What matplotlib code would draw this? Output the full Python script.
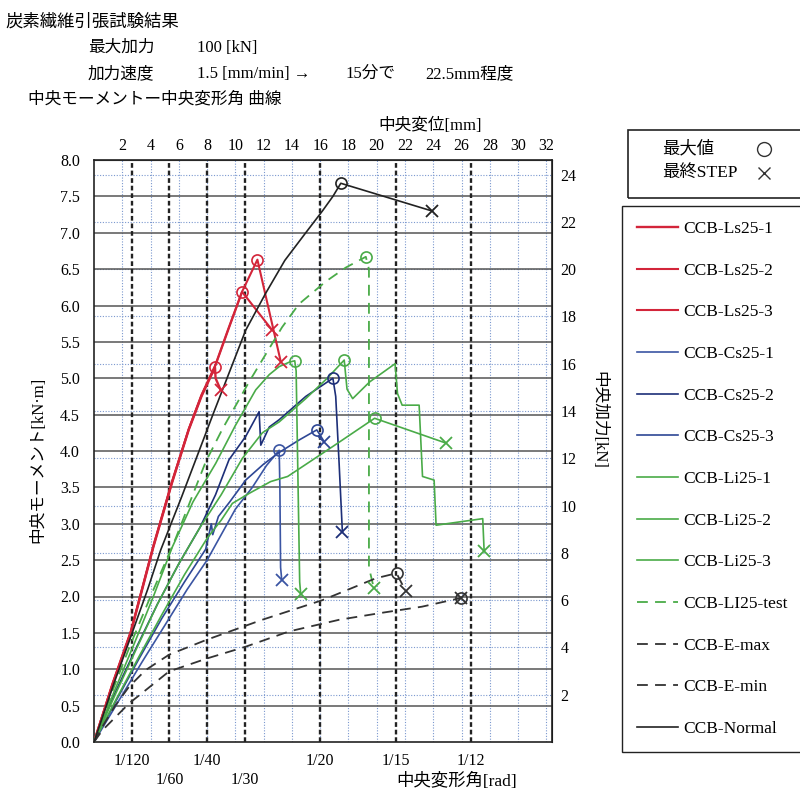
import numpy as np
import matplotlib.pyplot as plt
from matplotlib.lines import Line2D
from matplotlib.patches import Rectangle

plt.rcParams['font.family'] = ['Liberation Serif', 'Noto Sans CJK JP']

# kN per kN*m (right axis) and mm per rad (top axis)
K = 1 / 0.325
MM_PER_RAD = 320

# rad ticks on the bottom axis
rad_denoms = [120, 60, 40, 30, 20, 15, 12]
rad_labels = ['1/120', '\n1/60', '1/40', '\n1/30', '1/20', '1/15', '1/12']
mm_ticks = list(range(2, 33, 2))
kn_ticks = list(range(2, 25, 2))
moment_ticks = np.arange(0, 8.01, 0.5)

# ---- curves: x = central displacement [mm], y = moment [kN*m]
ls1_x = [0, 1.3, 2.6, 4.2, 5.5, 6.7, 7.6, 8.56, 8.6, 8.96]
ls1_y = [0, 0.78, 1.5, 2.68, 3.55, 4.29, 4.75, 5.15, 5.0, 4.84]
ls2_x = [0, 1.3, 2.6, 4.2, 5.5, 6.7, 7.6, 8.56, 9.5, 10.47, 12.57]
ls2_y = [0, 0.8, 1.52, 2.7, 3.57, 4.3, 4.77, 5.17, 5.68, 6.19, 5.67]
ls3_x = [0, 1.3, 2.6, 4.2, 5.5, 6.7, 7.6, 8.6, 9.6, 10.5, 11.56, 13.21]
ls3_y = [0, 0.79, 1.51, 2.69, 3.56, 4.3, 4.76, 5.18, 5.72, 6.2, 6.63, 5.23]

cs1_x = [0, 1.7, 3.4, 5.0, 6.6, 8.0, 9.0, 10.0, 11.2, 12.2, 13.1, 13.15, 13.2, 13.28]
cs1_y = [0, 0.55, 1.1, 1.6, 2.1, 2.5, 2.85, 3.2, 3.5, 3.8, 4.01, 3.5, 2.4, 2.23]
cs2_x = [0, 1.5, 3.0, 4.5, 6.0, 7.5, 8.6, 9.55, 10.73, 11.68, 11.8, 12.4, 13.1, 14.98, 16.9, 17.1, 17.34, 17.57]
cs2_y = [0, 0.68, 1.3, 1.9, 2.45, 2.95, 3.4, 3.88, 4.2, 4.54, 4.08, 4.33, 4.43, 4.75, 5.0, 4.75, 3.83, 2.89]
cs3_x = [0, 1.6, 3.2, 4.8, 6.4, 7.9, 8.3, 8.4, 8.8, 9.6, 10.73, 12.0, 13.1, 14.5, 15.76, 16.28]
cs3_y = [0, 0.58, 1.15, 1.7, 2.2, 2.65, 3.0, 2.85, 3.1, 3.3, 3.6, 3.82, 3.98, 4.15, 4.29, 4.13]

li1_x = [0, 1.4, 2.8, 4.2, 5.54, 7.0, 8.61, 10.0, 11.44, 12.4, 13.1, 13.8, 14.2, 14.3, 14.55, 14.62]
li1_y = [0, 0.68, 1.33, 2.0, 2.68, 3.3, 3.83, 4.35, 4.84, 5.05, 5.16, 5.22, 5.24, 5.1, 2.2, 2.04]
li2_x = [0, 1.5, 3.0, 4.5, 6.0, 7.5, 9.0, 10.5, 11.91, 13.1, 14.98, 16.5, 17.7, 17.9, 18.3, 19.5, 21.3,
         21.47, 21.8, 23.0, 23.24, 24.06, 24.2, 27.5, 27.6]
li2_y = [0, 0.65, 1.28, 1.9, 2.45, 2.95, 3.4, 3.9, 4.25, 4.4, 4.72, 5.0, 5.25, 4.85, 4.72, 4.95, 5.2,
         4.79, 4.63, 4.63, 3.65, 3.6, 2.98, 3.07, 2.62]
li3_x = [0, 1.6, 3.2, 4.8, 6.4, 8.0, 9.0, 9.79, 11.0, 12.5, 13.7, 16.8, 19.85, 24.88]
li3_y = [0, 0.6, 1.18, 1.75, 2.3, 2.8, 3.05, 3.28, 3.42, 3.58, 3.65, 4.05, 4.45, 4.11]
lit_x = [0, 1.3, 2.5, 4.0, 5.78, 7.9, 9.08, 10.97, 11.9, 13.3, 14.5, 16.4, 17.8, 19.23, 19.45, 19.45, 19.8]
lit_y = [0, 0.7, 1.3, 2.0, 2.8, 3.85, 4.3, 4.95, 5.25, 5.7, 6.02, 6.33, 6.52, 6.67, 6.5, 2.4, 2.11]

emax_x = [0, 0.59, 1.5, 2.48, 3.66, 5.31, 7.9, 11.9, 16.16, 19.93, 21.4, 22.06]
emax_y = [0, 0.21, 0.5, 0.76, 0.99, 1.2, 1.4, 1.68, 1.95, 2.25, 2.32, 2.07]
emin_x = [0, 0.59, 2.48, 5.31, 8.02, 10.73, 13.8, 17.34, 20.5, 23.2, 25.97]
emin_y = [0, 0.16, 0.53, 0.97, 1.15, 1.31, 1.52, 1.68, 1.78, 1.86, 1.98]
nor_x = [0, 1.4, 2.7, 3.8, 4.72, 6.2, 8.45, 10.73, 12.15, 13.5, 14.98, 16.16, 16.9, 17.46, 23.9]
nor_y = [0, 0.8, 1.5, 2.1, 2.64, 3.37, 4.52, 5.66, 6.17, 6.62, 7.0, 7.3, 7.5, 7.68, 7.30]

RED = '#d3253a'
GREEN = '#4aab48'
series = [
    ('CCB-Ls25-1', ls1_x, ls1_y, RED, '-', 1.7),
    ('CCB-Ls25-2', ls2_x, ls2_y, RED, '-', 1.5),
    ('CCB-Ls25-3', ls3_x, ls3_y, RED, '-', 1.5),
    ('CCB-Cs25-1', cs1_x, cs1_y, '#3b55a3', '-', 1.2),
    ('CCB-Cs25-2', cs2_x, cs2_y, '#1d2f78', '-', 1.2),
    ('CCB-Cs25-3', cs3_x, cs3_y, '#2e4795', '-', 1.2),
    ('CCB-Li25-1', li1_x, li1_y, GREEN, '-', 1.2),
    ('CCB-Li25-2', li2_x, li2_y, GREEN, '-', 1.2),
    ('CCB-Li25-3', li3_x, li3_y, GREEN, '-', 1.2),
    ('CCB-LI25-test', lit_x, lit_y, GREEN, (0, (6, 4)), 1.3),
    ('CCB-E-max', emax_x, emax_y, '#333333', (0, (6, 4)), 1.3),
    ('CCB-E-min', emin_x, emin_y, '#333333', (0, (6, 4)), 1.3),
    ('CCB-Normal', nor_x, nor_y, '#222222', '-', 1.2),
]

W, H = 800, 793


def fx(px):
    return px / W


def fy(py):
    return 1 - py / H


fig = plt.figure(figsize=(W / 100, H / 100), dpi=100)
ax = fig.add_axes([fx(94), fy(742), fx(552) - fx(94), fy(160) - fy(742)])
ax.set_xlim(0, 32.4)
ax.set_ylim(0, 8)

# grid
for m in mm_ticks:
    ax.axvline(m, color='#7b98cf', lw=0.8, ls=(0, (1, 1.5)), zorder=1)
for p in kn_ticks:
    ax.axhline(p / K, color='#7b98cf', lw=0.8, ls=(0, (1, 1.5)), zorder=1)
for v in moment_ticks[1:]:
    ax.axhline(v, color='#555555', lw=1.1, zorder=1)
for d in rad_denoms:
    ax.axvline(MM_PER_RAD / d, color='#222222', lw=1.7, ls=(0, (2, 1.2)), zorder=1.5)

handles = []
for label, x, y, c, ls, lw in series:
    x = np.array(x)
    y = np.array(y)
    h, = ax.plot(x, y, color=c, ls=ls, lw=lw, label=label, zorder=3)
    handles.append(h)
    i = np.argmax(y)
    ax.plot(x[i], y[i], marker='o', ms=8, mfc='none', mec=c, mew=1.2, ls='none', zorder=4)
    ax.plot(x[-1], y[-1], marker='x', ms=9, mec=c, mew=1.3, ls='none', zorder=4)

# axes / ticks
ax.set_yticks(moment_ticks)
ax.set_yticklabels([f'{v:.1f}' for v in moment_ticks])
ax.set_xticks([MM_PER_RAD / d for d in rad_denoms])
ax.set_xticklabels(rad_labels, va='top', linespacing=1.25)
ax.tick_params(axis='both', length=0, labelsize=11.5)
ax.tick_params(axis='y', pad=10)
ax.tick_params(axis='x', pad=8)
for s in ax.spines.values():
    s.set_linewidth(1.2)
    s.set_color('#222222')

top = ax.secondary_xaxis('top')
top.set_xticks(mm_ticks)
top.tick_params(length=0, labelsize=11.5, pad=4)

right = ax.secondary_yaxis('right', functions=(lambda m: m * K, lambda p: p / K))
right.set_yticks(kn_ticks)
right.tick_params(length=0, labelsize=11.5, pad=6)

# texts
fig.text(fx(5), fy(22), '炭素繊維引張試験結果', fontsize=12.5, va='center')
fig.text(fx(88), fy(48), '最大加力', fontsize=12, va='center')
fig.text(fx(197), fy(48), '100 [kN]', fontsize=12, va='center')
fig.text(fx(88), fy(74), '加力速度', fontsize=12, va='center')
fig.text(fx(197), fy(74), '1.5 [mm/min] →', fontsize=12, va='center')
fig.text(fx(345), fy(74), '15分で', fontsize=12, va='center')
fig.text(fx(425), fy(74), '22.5mm程度', fontsize=12, va='center')
fig.text(fx(28), fy(99), '中央モーメントー中央変形角 曲線', fontsize=12, va='center')
fig.text(fx(430), fy(126), '中央変位[mm]', fontsize=12, ha='center', va='center')
fig.text(fx(457), fy(781), '中央変形角[rad]', fontsize=12.5, ha='center', va='center')
fig.text(fx(38), fy(460), '中央モーメント[kN·m]', fontsize=12, ha='center', va='center', rotation=90)
fig.text(fx(598), fy(420), '中央加力[kN]', fontsize=12, ha='center', va='center', rotation=-90)

# marker key box
fig.patches.append(Rectangle((fx(628), fy(198)), fx(810) - fx(628), fy(130) - fy(198),
                             transform=fig.transFigure, fill=False, ec='#222222', lw=1.2))
key_labels = ['最大値', '最終STEP']
key_markers = ['o', 'x']
key_rows = [149, 173]
for lab, mk, row in zip(key_labels, key_markers, key_rows):
    fig.text(fx(662), fy(row), lab, fontsize=12.5, va='center')
    fig.add_artist(Line2D([fx(764)], [fy(row)], transform=fig.transFigure, marker=mk,
                          ms=10 if mk == 'o' else 9, mfc='none', mec='#333333', mew=1.0, ls='none'))

# series legend
fig.legend(handles, [s[0] for s in series], loc='upper left', mode='expand',
           bbox_to_anchor=(fx(622), fy(745), 0.3, fy(206) - fy(745)),
           fontsize=12.5, labelspacing=1.47, handlelength=2.4, handletextpad=0.3,
           borderpad=0.85, borderaxespad=0, fancybox=False,
           edgecolor='#222222', framealpha=1)

fig.savefig('out.png', dpi=100)
